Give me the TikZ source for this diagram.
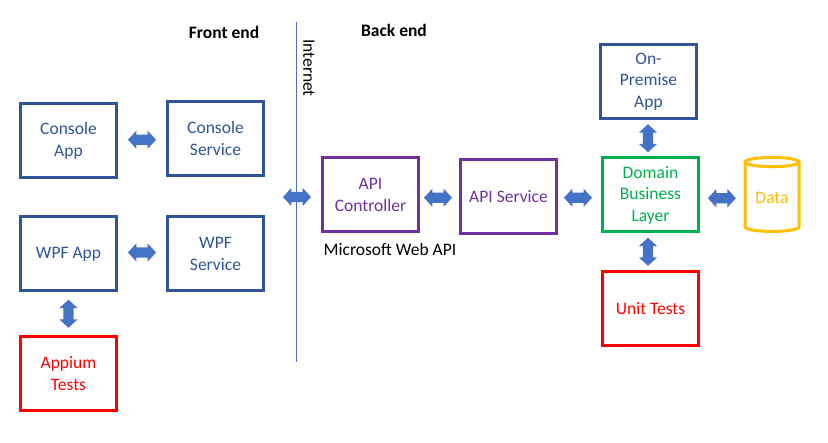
\documentclass[tikz,border=0pt]{standalone}
\usepackage{fontspec}
\setmainfont{Carlito}
\usetikzlibrary{shapes.arrows,shapes.geometric}
\definecolor{appblue}{HTML}{2F5597}
\definecolor{arrowblue}{HTML}{4472C4}
\definecolor{apipurple}{HTML}{7030A0}
\definecolor{domaingreen}{HTML}{00B050}
\definecolor{datayellow}{HTML}{FFC000}
\tikzset{
  box/.style={draw=#1,text=#1,line width=3pt,minimum width=96.5pt,minimum height=74pt,inner sep=0pt,align=center,font=\fontsize{17.5}{21.5}\selectfont},
  link/.style={double arrow,fill=arrowblue,draw=none,minimum height=28pt,inner sep=5pt,double arrow head extend=4pt,double arrow tip angle=95},
  uplink/.style={link,shape border rotate=90},
  heading/.style={font=\fontsize{17.5}{21}\selectfont\bfseries,inner sep=0pt},
  plain/.style={font=\fontsize{17.5}{21}\selectfont,inner sep=0pt}
}
\begin{document}
\begin{tikzpicture}[x=1pt,y=-1pt]
  \useasboundingbox (0,0) rectangle (828,443);
  \node[heading] (frontend) at (224,32) {Front end};
  \node[heading] (backend) at (394,30) {Back end};
  \coordinate (inttop) at (296.5,22);
  \coordinate (intbot) at (296.5,362);
  \draw[arrowblue,line width=1pt] (inttop)--(intbot);
  \node[plain,rotate=-90] (internet) at (309,68) {Internet};
  % front end
  \node[box=appblue] (consoleapp) at (68.5,141) {Console\\App};
  \node[box=appblue] (consoleservice) at (215.5,138.5) {Console\\Service};
  \node[box=appblue] (wpfapp) at (68.5,254) {WPF App};
  \node[box=appblue] (wpfservice) at (215.5,254) {WPF\\Service};
  \node[box=red] (appium) at (68.5,373.5) {Appium\\Tests};
  % back end
  \node[box=apipurple] (apicontroller) at (370.5,195) {API\\Controller};
  \node[plain] (webapi) at (390,249) {Microsoft Web API};
  \node[box=apipurple] (apiservice) at (508.5,196.5) {API Service};
  \node[box=domaingreen] (domain) at (650.5,195) {Domain\\Business\\Layer};
  \node[box=appblue] (onpremise) at (648.5,81.5) {On-\\Premise\\App};
  \node[box=red] (unittests) at (650.5,308.5) {Unit Tests};
  \node[draw=datayellow,text=datayellow,line width=3pt,cylinder,shape border rotate=90,shape aspect=0.28,minimum width=54pt,minimum height=74pt,inner sep=0pt,font=\fontsize{17.5}{21}\selectfont] (data) at (772,197.5) {Data};
  % links
  \path (consoleapp.east)--(consoleservice.west) node[link,midway] (linkconsole) {};
  \path (wpfapp.east)--(wpfservice.west) node[link,midway,yshift=1.5pt] (linkwpf) {};
  \path (wpfapp.south)--(appium.north) node[uplink,midway] (linkappium) {};
  \path (apicontroller.east)--(apiservice.west) node[link,midway,xshift=-1.5pt,yshift=-2pt] (linkapi) {};
  \path (apiservice.east)--(domain.west) node[link,midway,xshift=-1.5pt,yshift=-2pt] (linkdomain) {};
  \path (domain.east)--(data.west) node[link,midway,yshift=-2pt] (linkdata) {};
  \path (onpremise.south)--(domain.north) node[uplink,midway,xshift=-1.5pt] (linkonpremise) {};
  \path (domain.south)--(unittests.north) node[uplink,midway,xshift=-2.5pt] (linkunit) {};
  \node[link] (linkinternet) at (297,197) {};
\end{tikzpicture}
\end{document}
